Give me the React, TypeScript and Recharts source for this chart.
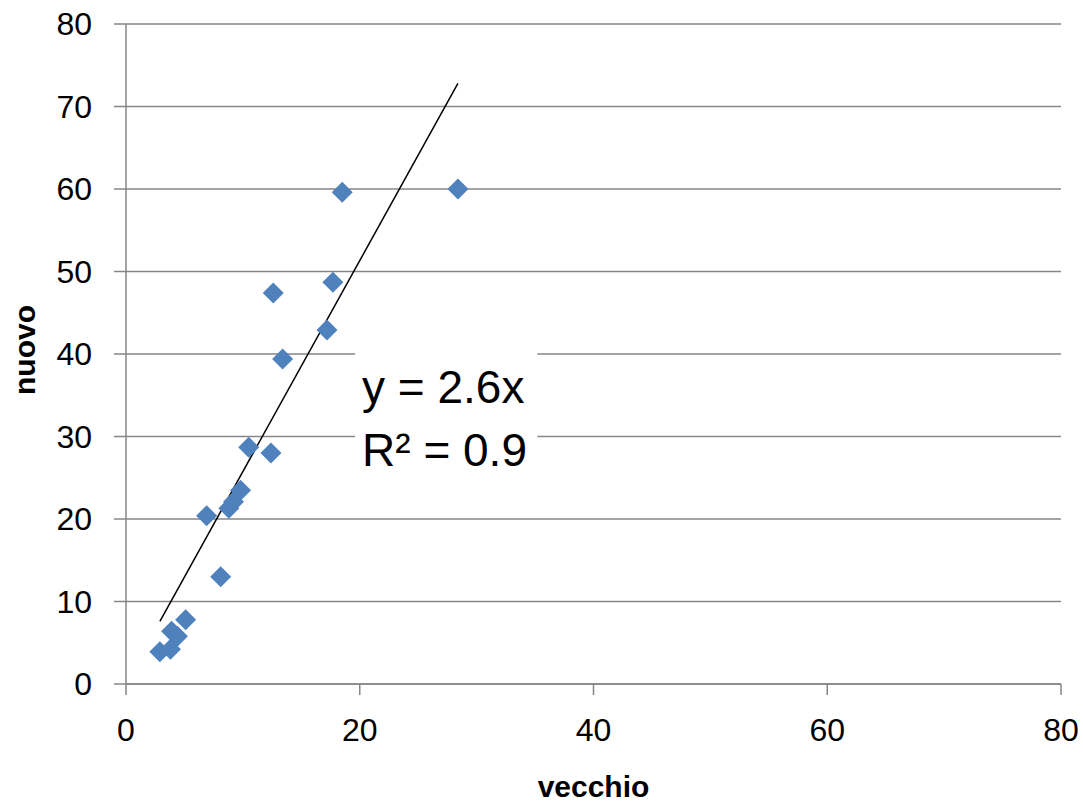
import React from 'react';
import { ScatterChart, Scatter, XAxis, YAxis, CartesianGrid, ReferenceLine, ReferenceArea } from 'recharts';

const oldValues = [2.9, 3.8, 3.9, 4.4, 5.1, 6.9, 8.1, 8.8, 9.2, 9.8, 10.5, 12.4, 12.6, 13.4, 17.2, 17.7, 18.5, 28.4];
const newValues = [3.9, 4.2, 6.4, 5.8, 7.8, 20.4, 13.0, 21.3, 22.1, 23.5, 28.7, 28.0, 47.4, 39.4, 42.9, 48.7, 59.6, 60.0];
const xTicks = [0, 20, 40, 60, 80];
const yTicks = [0, 10, 20, 30, 40, 50, 60, 70, 80];
const trendStart = { x: 2.9, y: 7.6 };
const trendEnd = { x: 28.4, y: 72.8 };
const equationLines = ['y = 2.6x', 'R² = 0.9'];
const labelBox = { x1: 19.6, x2: 35.2, y1: 27, y2: 41 };

const data = oldValues.map((v, i) => ({ vecchio: v, nuovo: newValues[i] }));

const FONT = '"Liberation Sans", Arial, sans-serif';
const GRID = '#868686';

const Diamond = (props: any) => {
  const { cx, cy } = props;
  const r = 10.5;
  return (
    <polygon
      points={`${cx},${cy - r} ${cx + r},${cy} ${cx},${cy + r} ${cx - r},${cy}`}
      fill="#4F81BD"
    />
  );
};

const XLabel = (props: any) => {
  const vb = props.viewBox || {};
  return (
    <text x={vb.x + vb.width / 2} y={vb.y + vb.height - 5} textAnchor="middle" fontFamily={FONT} fontWeight="bold" fontSize={30} fill="#000">
      vecchio
    </text>
  );
};

const YLabel = (props: any) => {
  const vb = props.viewBox || {};
  const x = 35;
  const y = vb.y + vb.height / 2 - 4;
  return (
    <text x={x} y={y} transform={`rotate(-90, ${x}, ${y})`} textAnchor="middle" fontFamily={FONT} fontWeight="bold" fontSize={30} fill="#000">
      nuovo
    </text>
  );
};

const EquationLabel = (props: any) => {
  const vb = props.viewBox || {};
  return (
    <g>
      <text x={vb.x + 7} y={vb.y + 57} fontFamily={FONT} fontSize={46} fill="#000">{equationLines[0]}</text>
      <text x={vb.x + 7} y={vb.y + 120} fontFamily={FONT} fontSize={46} fill="#000">{equationLines[1]}</text>
    </g>
  );
};

export default function App() {
  return (
    <div style={{ position: 'absolute', left: 0, top: 0, width: 1083, height: 802, background: '#fff' }}>
      <ScatterChart width={1083} height={802} margin={{ top: 24, right: 22, bottom: 0, left: 0 }}>
        <CartesianGrid vertical={false} stroke={GRID} strokeWidth={1.5} />
        <XAxis
          type="number"
          dataKey="vecchio"
          domain={[0, 80]}
          ticks={xTicks}
          height={118}
          tickSize={11}
          tickMargin={23}
          stroke={GRID}
          strokeWidth={1.5}
          tick={{ fill: '#000', fontSize: 32, fontFamily: FONT }}
          label={<XLabel />}
        />
        <YAxis
          type="number"
          dataKey="nuovo"
          domain={[0, 80]}
          ticks={yTicks}
          width={126}
          tickSize={12}
          tickMargin={22}
          stroke={GRID}
          strokeWidth={1.5}
          tick={{ fill: '#000', fontSize: 32, fontFamily: FONT }}
          label={<YLabel />}
        />
        <ReferenceArea x1={labelBox.x1} x2={labelBox.x2} y1={labelBox.y1} y2={labelBox.y2} fill="#fff" fillOpacity={1} stroke="none" label={<EquationLabel />} />
        <ReferenceLine segment={[trendStart, trendEnd]} stroke="#000" strokeWidth={1.5} />
        <Scatter data={data} shape={<Diamond />} isAnimationActive={false} />
      </ScatterChart>
    </div>
  );
}
